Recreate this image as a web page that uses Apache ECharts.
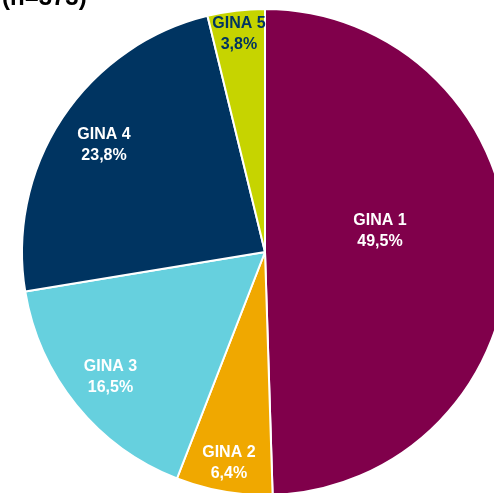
<!DOCTYPE html>
<html><head><meta charset="utf-8">
<script src="https://cdn.jsdelivr.net/npm/echarts@6/dist/echarts.min.js"></script>
<style>html,body{margin:0;padding:0;background:#fff}#c{width:494px;height:493px}</style>
</head><body><div id="c"></div>
<script>
var categories = ['GINA 1','GINA 2','GINA 3','GINA 4','GINA 5'];
var values = [49.5, 6.4, 16.5, 23.8, 3.8];
var colors = ['#80004B','#F0A800','#66D0DE','#003461','#C6D400'];
var labelColors = ['#ffffff','#ffffff','#ffffff','#ffffff','#003461'];
var labelRadii = [112, 211, 196, 190, 216];
var labelOffsets = [[0,-19],[0,0],[0,0],[0,0],[0,0]];

var C = [265, 252], R = 243;
function fmt(v){ return v.toFixed(1).replace('.', ','); }

var series = [{
  type:'pie', center:C, radius:[0,R], startAngle:90, clockwise:true, silent:true,
  label:{show:false}, labelLine:{show:false},
  itemStyle:{borderColor:'#fff', borderWidth:2},
  data: categories.map(function(c,i){return {name:c, value:values[i], itemStyle:{color:colors[i]}};})
}];
categories.forEach(function(c,k){
  var w = 30;
  series.push({
    type:'pie', center:C, radius:[labelRadii[k]-w, labelRadii[k]+w], startAngle:90, clockwise:true, silent:true,
    itemStyle:{color:'rgba(0,0,0,0)'},
    labelLine:{show:false},
    data: categories.map(function(cc,i){return {name:cc, value:values[i],
      label:{show:i===k, position:'inside', offset:labelOffsets[i], color:labelColors[i], fontFamily:'Liberation Sans, Arial, sans-serif',
        fontWeight:'bold', fontSize:16, lineHeight:21,
        formatter: cc + '\n' + fmt(values[i]) + '%'}};})
  });
});

var chart = echarts.init(document.getElementById('c'));
chart.setOption({
  animation:false,
  title:{text:'(n=373)', left:-3, top:-19, textStyle:{fontFamily:'Liberation Sans, Arial, sans-serif', fontWeight:'bold', fontSize:24, color:'#000'}},
  series: series
});
</script></body></html>
